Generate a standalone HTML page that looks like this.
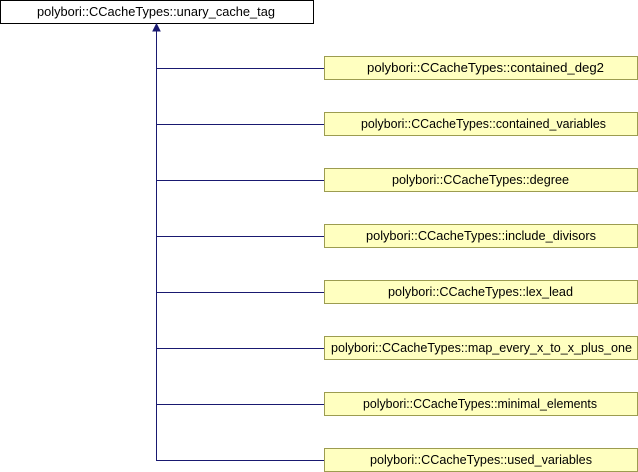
<!DOCTYPE html>
<html>
<head>
<meta charset="utf-8">
<style>
  html, body { margin: 0; padding: 0; background: #ffffff; }
  svg { display: block; }
  text { font-family: "Liberation Sans", Arial, sans-serif; font-size: 13px; fill: #000; }
</style>
</head>
<body>
<svg width="638" height="472" viewBox="0 0 638 472" xmlns="http://www.w3.org/2000/svg">
  <!-- base class -->
  <rect x="0.5" y="0.5" width="313" height="23" fill="#ffffff" stroke="#000000" stroke-width="1"/>
  <text x="156" y="16" text-anchor="middle" textLength="238" lengthAdjust="spacingAndGlyphs">polybori::CCacheTypes::unary_cache_tag</text>

  <!-- connectors -->
  <g stroke="#191970" stroke-width="1" fill="none">
    <line x1="156.5" y1="29" x2="156.5" y2="460.5"/>
    <line x1="156" y1="68.5" x2="324" y2="68.5"/>
    <line x1="156" y1="124.5" x2="324" y2="124.5"/>
    <line x1="156" y1="180.5" x2="324" y2="180.5"/>
    <line x1="156" y1="236.5" x2="324" y2="236.5"/>
    <line x1="156" y1="292.5" x2="324" y2="292.5"/>
    <line x1="156" y1="348.5" x2="324" y2="348.5"/>
    <line x1="156" y1="404.5" x2="324" y2="404.5"/>
    <line x1="156" y1="460.5" x2="324" y2="460.5"/>
  </g>
  <polygon points="156.5,24 153,31 160,31" fill="#191970" stroke="#191970" stroke-width="1"/>

  <!-- derived classes -->
  <g fill="#ffffc0" stroke="#9c9c50" stroke-width="1">
    <rect x="324.5" y="56.5" width="313" height="23"/>
    <rect x="324.5" y="112.5" width="313" height="23"/>
    <rect x="324.5" y="168.5" width="313" height="23"/>
    <rect x="324.5" y="224.5" width="313" height="23"/>
    <rect x="324.5" y="280.5" width="313" height="23"/>
    <rect x="324.5" y="336.5" width="313" height="23"/>
    <rect x="324.5" y="392.5" width="313" height="23"/>
    <rect x="324.5" y="448.5" width="313" height="23"/>
  </g>

  <text x="485.5" y="72" text-anchor="middle" textLength="237" lengthAdjust="spacingAndGlyphs">polybori::CCacheTypes::contained_deg2</text>
  <text x="483.5" y="128" text-anchor="middle" textLength="245" lengthAdjust="spacingAndGlyphs">polybori::CCacheTypes::contained_variables</text>
  <text x="480.5" y="184" text-anchor="middle" textLength="177" lengthAdjust="spacingAndGlyphs">polybori::CCacheTypes::degree</text>
  <text x="481" y="240" text-anchor="middle" textLength="230" lengthAdjust="spacingAndGlyphs">polybori::CCacheTypes::include_divisors</text>
  <text x="480.5" y="296" text-anchor="middle" textLength="185" lengthAdjust="spacingAndGlyphs">polybori::CCacheTypes::lex_lead</text>
  <text x="481.5" y="352" text-anchor="middle" textLength="301" lengthAdjust="spacingAndGlyphs">polybori::CCacheTypes::map_every_x_to_x_plus_one</text>
  <text x="480" y="408" text-anchor="middle" textLength="234" lengthAdjust="spacingAndGlyphs">polybori::CCacheTypes::minimal_elements</text>
  <text x="481" y="464" text-anchor="middle" textLength="222" lengthAdjust="spacingAndGlyphs">polybori::CCacheTypes::used_variables</text>
</svg>
</body>
</html>
